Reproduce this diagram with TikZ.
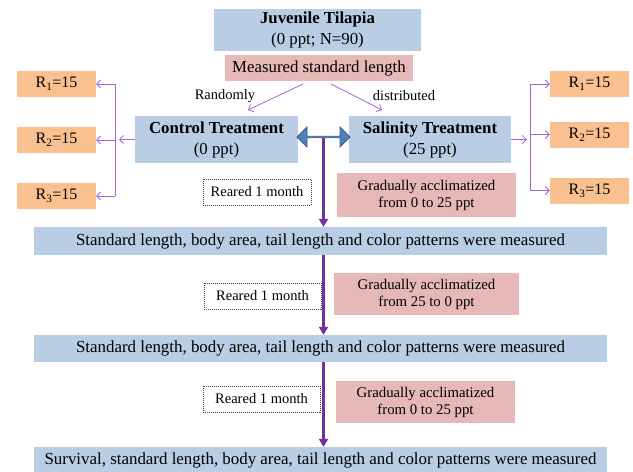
\documentclass[tikz,border=0pt]{standalone}
\usepackage{fontspec}
\setmainfont{Liberation Serif}
\usetikzlibrary{shapes.arrows,arrows.meta}

\definecolor{boxblue}{HTML}{B9CDE5}
\definecolor{boxpink}{HTML}{E6B9B8}
\definecolor{boxorange}{HTML}{FAC090}
\definecolor{lilac}{RGB}{160,102,210}
\definecolor{deeppurple}{HTML}{7030A0}
\definecolor{arrowblue}{HTML}{4F81BD}
\definecolor{arrowedge}{HTML}{385D8A}

\begin{document}
\begin{tikzpicture}[x=1pt,y=-1pt,
	bluebox/.style={fill=boxblue, inner sep=0pt, align=center},
	pinkbox/.style={fill=boxpink, inner sep=0pt, align=center},
	repbox/.style={fill=boxorange, inner sep=0pt, minimum width=79pt, minimum height=26pt, font=\fontsize{16}{19}\selectfont},
	rearbox/.style={draw=black!75, dash pattern=on 1pt off 1pt, line width=0.6pt, fill=white, inner sep=0pt, minimum height=26pt, font=\fontsize{14.5}{17}\selectfont},
	thinarrow/.style={draw=lilac, line width=0.8pt, -{Straight Barb[length=4pt,width=8pt]}},
	thickarrow/.style={draw=deeppurple, line width=2.5pt, -{Triangle[length=8pt,width=9pt]}}]
	\useasboundingbox (0,0) rectangle (633,472);
	
	% Top boxes
	\node[bluebox, minimum width=207pt, minimum height=42pt, font=\fontsize{16.8}{21}\selectfont] (juv) at (317.5,30) {\textbf{Juvenile Tilapia}\\(0 ppt; N=90)};
	\node[pinkbox, minimum width=188pt, minimum height=26pt, font=\fontsize{16.8}{19}\selectfont] (meas) at (319,68) {Measured standard length};
	
	% Treatments
	\node[bluebox, minimum width=163pt, minimum height=47pt, font=\fontsize{16.8}{21}\selectfont] (ctrl) at (216.5,139.5) {\textbf{Control Treatment}\\(0 ppt)};
	\node[bluebox, minimum width=162pt, minimum height=47pt, font=\fontsize{16.8}{21}\selectfont] (sal) at (430,139.5) {\textbf{Salinity Treatment}\\(25 ppt)};
	\node[double arrow, fill=arrowblue, draw=arrowedge, line width=0.8pt, inner sep=0pt, minimum height=53pt, minimum width=20pt, double arrow head extend=5pt] (dbl) at (323.5,137) {};
	
	% Replicates
	\node[repbox] (L1) at (56.5,84) {R\textsubscript{1}=15};
	\node[repbox] (L2) at (56.5,140) {R\textsubscript{2}=15};
	\node[repbox] (L3) at (56.5,196) {R\textsubscript{3}=15};
	\node[repbox] (R1) at (589.5,84) {R\textsubscript{1}=15};
	\node[repbox] (R2) at (589.5,134.5) {R\textsubscript{2}=15};
	\node[repbox] (R3) at (589.5,190.5) {R\textsubscript{3}=15};
	
	% Random split
	\coordinate (rndstart) at (303,84);
	\coordinate (rndend) at (248,110);
	\coordinate (dststart) at (331,84);
	\coordinate (dstend) at (382,110);
	\draw[thinarrow] (rndstart) -- (rndend);
	\draw[thinarrow] (dststart) -- (dstend);
	\node[font=\fontsize{14.5}{17}\selectfont] (rndlbl) at (225,96) {Randomly};
	\node[font=\fontsize{14.5}{17}\selectfont] (dstlbl) at (404,96) {distributed};
	
	% Brackets to replicates
	\coordinate (lbar) at (115,0);
	\coordinate (rbar) at (530,0);
	\draw[lilac, line width=0.8pt] (lbar |- L1.east) -- (lbar |- L3.east);
	\draw[thinarrow] (ctrl.west) -- ([xshift=4pt]ctrl.west -| lbar);
	\foreach \r in {L1,L2,L3}
		\draw[thinarrow] (lbar |- \r.east) -- (\r.east);
	\draw[lilac, line width=0.8pt] (rbar |- R1.west) -- (rbar |- R3.west);
	\draw[thinarrow] (sal.east) -- ([xshift=-3pt]sal.east -| rbar);
	\foreach \r in {R1,R2,R3}
		\draw[thinarrow] (rbar |- \r.west) -- (\r.west);
	
	% Measurement rows
	\node[bluebox, minimum width=573pt, minimum height=28pt, font=\fontsize{16.9}{19}\selectfont] (row1) at (320.5,241) {Standard length, body area, tail length and color patterns were measured};
	\node[bluebox, minimum width=573pt, minimum height=27pt, font=\fontsize{16.9}{19}\selectfont] (row2) at (320.5,348.5) {Standard length, body area, tail length and color patterns were measured};
	\node[bluebox, minimum width=573pt, minimum height=27pt, font=\fontsize{16.9}{19}\selectfont] (row3) at (320.5,460.5) {Survival, standard length, body area, tail length and color patterns were measured};
	
	% Rearing steps
	\node[rearbox, minimum width=108pt] (rear1) at (257,192) {Reared 1 month};
	\node[rearbox, minimum width=117pt] (rear2) at (262.5,296) {Reared 1 month};
	\node[rearbox, minimum width=117pt] (rear3) at (261.5,399) {Reared 1 month};
	\node[pinkbox, minimum width=179pt, minimum height=44pt, font=\fontsize{14.8}{17}\selectfont] (accl1) at (426.5,195) {Gradually acclimatized\\from 0 to 25 ppt};
	\node[pinkbox, minimum width=185pt, minimum height=42pt, font=\fontsize{14.8}{17}\selectfont] (accl2) at (426.5,294) {Gradually acclimatized\\from 25 to 0 ppt};
	\node[pinkbox, minimum width=179pt, minimum height=42pt, font=\fontsize{14.8}{17}\selectfont] (accl3) at (425.5,402) {Gradually acclimatized\\from 0 to 25 ppt};
	
	% Timeline arrows
	\draw[thickarrow] (dbl.south) -- (dbl.south |- row1.north);
	\draw[thickarrow] (dbl.south |- row1.south) -- (dbl.south |- row2.north);
	\draw[thickarrow] (dbl.south |- row2.south) -- (dbl.south |- row3.north);
\end{tikzpicture}
\end{document}
